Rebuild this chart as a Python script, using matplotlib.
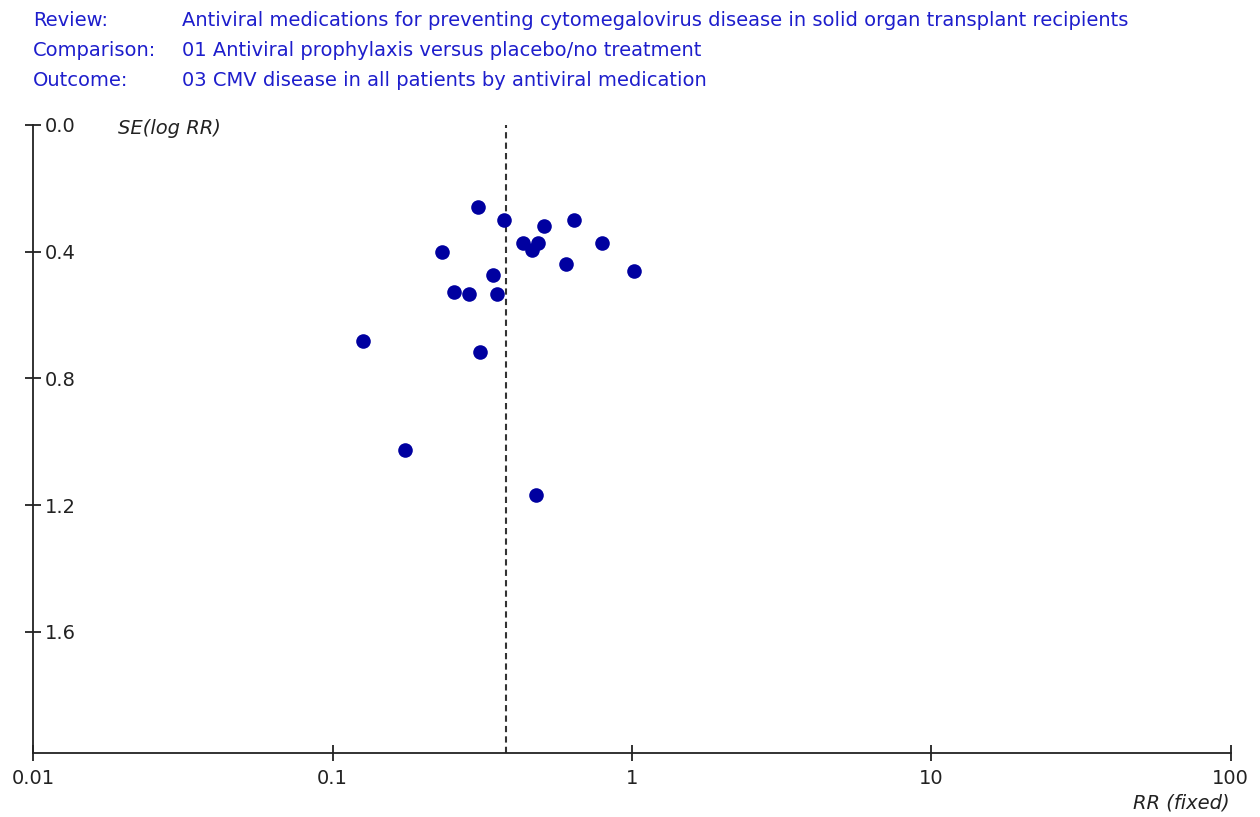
import numpy as np
import matplotlib.pyplot as plt

plt.rcParams['font.family'] = ['DejaVu Sans']

# Study estimates: risk ratio and standard error of log RR
rr = [0.306, 0.373, 0.508, 0.641, 0.2315, 0.432, 0.463, 0.486, 0.793, 0.601,
      1.016, 0.343, 0.255, 0.286, 0.354, 0.126, 0.311, 0.175, 0.477]
se = [0.258, 0.300, 0.319, 0.300, 0.400, 0.372, 0.395, 0.372, 0.372, 0.440,
      0.460, 0.475, 0.527, 0.535, 0.535, 0.683, 0.717, 1.026, 1.168]
pooled_rr = 0.380

x_ticks = [0.01, 0.1, 1, 10, 100]
x_ticklabels = ['0.01', '0.1', '1', '10', '100']
y_ticks = [0.0, 0.4, 0.8, 1.2, 1.6]
y_ticklabels = ['0.0', '0.4', '0.8', '1.2', '1.6']

header = [("Review:", "Antiviral medications for preventing cytomegalovirus disease in solid organ transplant recipients"),
          ("Comparison:", "01 Antiviral prophylaxis versus placebo/no treatment"),
          ("Outcome:", "03 CMV disease in all patients by antiviral medication")]

FS = 14

fig = plt.figure(figsize=(12.6, 8.17), dpi=100)
ax = fig.add_axes([33.3 / 1260, 63.7 / 817, (1230.7 - 33.3) / 1260, (753.3 - 125) / 817])

ax.set_xscale('log')
ax.set_xlim(0.01, 100)
ax.set_ylim(1.984, 0.0)

ax.axvline(pooled_rr, color='#333333', lw=1.5, ls=(0, (3, 2)), zorder=1)
ax.plot(rr, se, 'o', color='#0000A0', ms=10.5, mec='none', zorder=3)

for s in ['top', 'right']:
    ax.spines[s].set_visible(False)
for s in ['left', 'bottom']:
    ax.spines[s].set_linewidth(1.3)
    ax.spines[s].set_color('#222222')

ax.set_xticks(x_ticks)
ax.set_xticklabels(x_ticklabels)
ax.minorticks_off()
ax.set_yticks(y_ticks)
ax.set_yticklabels(y_ticklabels)
ax.tick_params(axis='both', direction='inout', length=12, width=1.3, color='#222222',
               labelsize=FS, labelcolor='#222222')
ax.tick_params(axis='x', pad=5)
ax.tick_params(axis='y', pad=-14.5)
for lab in ax.get_yticklabels():
    lab.set_horizontalalignment('left')

fig.text(118 / 1260, 1 - 128 / 817, "SE(log RR)", fontsize=FS,
         style='italic', color='#222222', va='center', ha='left')
fig.text(1230 / 1260, 1 - 803 / 817, "RR (fixed)", fontsize=FS,
         style='italic', color='#222222', va='center', ha='right')

for i, (key, val) in enumerate(header):
    yy = 1 - (20 + i * 30.5) / 817
    fig.text(33 / 1260, yy, key, fontsize=FS, color='#1E1ECC', va='center', ha='left')
    fig.text(182 / 1260, yy, val, fontsize=FS, color='#1E1ECC', va='center', ha='left')

fig.savefig('out.png', dpi=100, facecolor='white')
